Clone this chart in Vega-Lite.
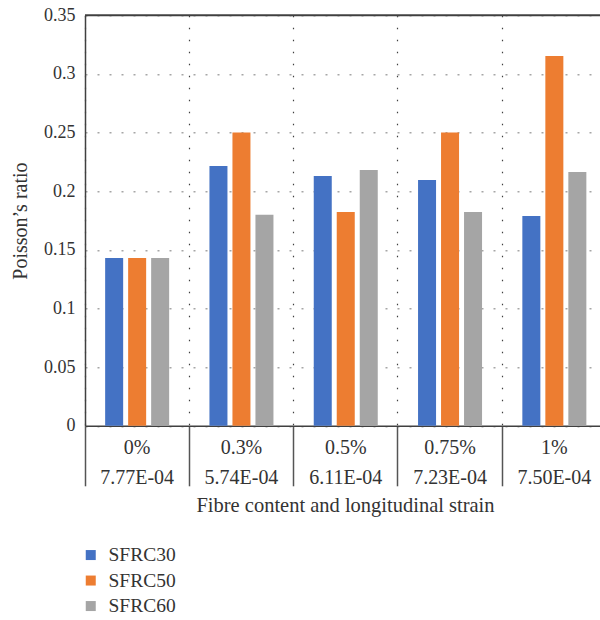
{
  "$schema": "https://vega.github.io/schema/vega-lite/v6.json",
  "autosize": {"type": "none"},
  "width": 515,
  "height": 410.5,
  "padding": {"left": 85, "top": 15.3, "right": 0, "bottom": 194},
  "background": "white",
  "config": {
    "view": {"stroke": null},
    "font": "Liberation Serif",
    "axis": {"labelFont": "Liberation Serif", "titleFont": "Liberation Serif", "labelColor": "#333333", "titleColor": "#333333", "titleFontWeight": "normal"},
    "legend": {"labelFont": "Liberation Serif", "labelColor": "#333333"}
  },
  "data": {
    "values": [
      {"fibre": "0%", "series": "SFRC30", "ratio": 0.143},
      {"fibre": "0%", "series": "SFRC50", "ratio": 0.143},
      {"fibre": "0%", "series": "SFRC60", "ratio": 0.143},
      {"fibre": "0.3%", "series": "SFRC30", "ratio": 0.2215},
      {"fibre": "0.3%", "series": "SFRC50", "ratio": 0.25},
      {"fibre": "0.3%", "series": "SFRC60", "ratio": 0.18},
      {"fibre": "0.5%", "series": "SFRC30", "ratio": 0.213},
      {"fibre": "0.5%", "series": "SFRC50", "ratio": 0.1822},
      {"fibre": "0.5%", "series": "SFRC60", "ratio": 0.218},
      {"fibre": "0.75%", "series": "SFRC30", "ratio": 0.2095},
      {"fibre": "0.75%", "series": "SFRC50", "ratio": 0.25},
      {"fibre": "0.75%", "series": "SFRC60", "ratio": 0.1822},
      {"fibre": "1%", "series": "SFRC30", "ratio": 0.1788},
      {"fibre": "1%", "series": "SFRC50", "ratio": 0.3153},
      {"fibre": "1%", "series": "SFRC60", "ratio": 0.2164}
    ]
  },
  "layer": [
    {
      "mark": {"type": "bar"},
      "encoding": {
        "x": {
          "field": "fibre",
          "type": "nominal",
          "sort": ["0%", "0.3%", "0.5%", "0.75%", "1%"],
          "scale": {"range": [0, 521.5], "paddingInner": 0, "paddingOuter": 0},
          "axis": {
            "title": "Fibre content and longitudinal strain",
            "titleFontSize": 20.5,
            "titleX": 260,
            "titleY": 80,
            "titleBaseline": "middle",
            "labelAngle": 0,
            "labelFontSize": 20,
            "labelBaseline": "top",
            "labelLineHeight": 30,
            "labelPadding": -48,
            "labelExpr": "[datum.label, {'0%': '7.77E-04', '0.3%': '5.74E-04', '0.5%': '6.11E-04', '0.75%': '7.23E-04', '1%': '7.50E-04'}[datum.label]]",
            "bandPosition": 0,
            "ticks": true,
            "tickSize": 60,
            "tickColor": "#555555",
            "tickWidth": 1.5,
            "domainColor": "#404040",
            "domainWidth": 1.5,
            "grid": true,
            "gridColor": "#404040",
            "gridDash": [1.5, 10.5],
            "gridWidth": 1.2
          }
        },
        "xOffset": {
          "field": "series",
          "type": "nominal",
          "scale": {"paddingInner": 0.217, "paddingOuter": 0.876}
        },
        "y": {
          "field": "ratio",
          "type": "quantitative",
          "scale": {"domain": [0, 0.35], "nice": false},
          "axis": {
            "title": "Poisson’s ratio",
            "titleFontSize": 20,
            "titleX": -65,
            "titleBaseline": "middle",
            "values": [0, 0.05, 0.1, 0.15, 0.2, 0.25, 0.3, 0.35],
            "format": ".2~f",
            "labelFontSize": 18,
            "labelPadding": 10,
            "ticks": false,
            "domainColor": "#404040",
            "domainWidth": 1.5,
            "grid": true,
            "gridColor": "#a6a6a6",
            "gridDash": [2, 10],
            "gridWidth": 1.5
          }
        },
        "color": {
          "field": "series",
          "type": "nominal",
          "scale": {"domain": ["SFRC30", "SFRC50", "SFRC60"], "range": ["#4472C4", "#ED7D31", "#A5A5A5"]},
          "legend": {
            "title": null,
            "orient": "none",
            "legendX": -4,
            "legendY": 530,
            "symbolType": "square",
            "symbolSize": 100,
            "symbolStrokeWidth": 0,
            "labelFontSize": 19.5,
            "labelOffset": 8,
            "rowPadding": 4.5
          }
        }
      }
    },
    {
      "data": {"values": [{"top": 0.35}]},
      "mark": {"type": "rule", "color": "#404040", "strokeWidth": 2},
      "encoding": {"y": {"field": "top", "type": "quantitative"}}
    }
  ]
}
